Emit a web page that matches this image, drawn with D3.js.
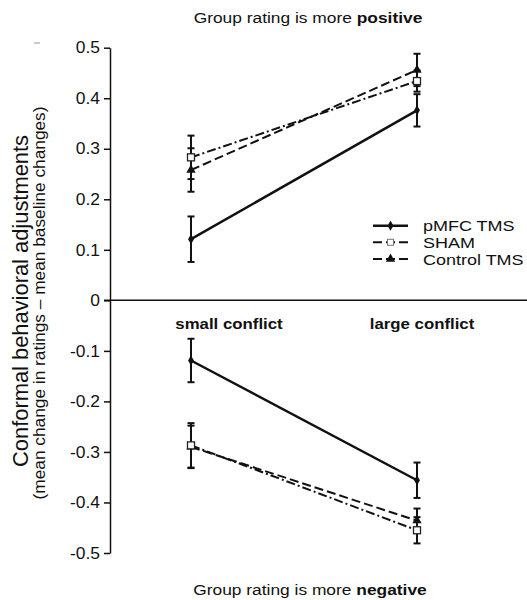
<!DOCTYPE html>
<html lang="en">
<head>
    <meta charset="UTF-8">
    <title>Conformal behavioral adjustments</title>
    <script src="https://cdnjs.cloudflare.com/ajax/libs/d3/7.8.5/d3.min.js"></script>
    <style>
        body {
            margin: 0;
            background-color: white;
        }
        svg text {
            font-family: "Liberation Sans", Arial, sans-serif;
            fill: #111;
        }
        .axis path, .axis line {
            stroke: #111;
            stroke-width: 1.5;
        }
    </style>
</head>
<body>
    <div id="chart"></div>

    <script>
        // Data
        const categories = ["small conflict", "large conflict"];
        const yTicks = [0.5, 0.4, 0.3, 0.2, 0.1, 0, -0.1, -0.2, -0.3, -0.4, -0.5];
        const seriesNames = ["pMFC TMS", "SHAM", "Control TMS"];

        // group rating more positive
        const pmfcPos = [0.121, 0.376];
        const pmfcPosErr = [0.045, 0.032];
        const shamPos = [0.283, 0.434];
        const shamPosErr = [0.043, 0.021];
        const controlPos = [0.258, 0.456];
        const controlPosErr = [0.043, 0.032];

        // group rating more negative
        const pmfcNeg = [-0.119, -0.356];
        const pmfcNegErr = [0.043, 0.035];
        const shamNeg = [-0.287, -0.455];
        const shamNegErr = [0.044, 0.026];
        const controlNeg = [-0.290, -0.436];
        const controlNegErr = [0.042, 0.024];

        const width = 527, height = 600;
        const axisX = 110;
        const stretch = 1.12;

        const svg = d3.select("#chart").append("svg")
            .attr("width", width)
            .attr("height", height);

        const x = d3.scalePoint().domain(categories).range([191, 417]);
        const y = d3.scaleLinear().domain([-0.5, 0.5]).range([553, 47.7]);

        // widen text a bit, the original font runs wider than Arial
        function widen(sel, k) {
            sel.each(function() {
                const w = this.getComputedTextLength();
                d3.select(this).attr("textLength", w * k).attr("lengthAdjust", "spacingAndGlyphs");
            });
        }

        const styles = {
            "pMFC TMS":    { dash: null,           width: 2.5, symbol: "diamond" },
            "SHAM":        { dash: "9,3,2,3",      width: 2,   symbol: "square" },
            "Control TMS": { dash: "9,4",          width: 2,   symbol: "triangle" }
        };

        function drawMarker(g, kind, cx, cy) {
            if (kind === "diamond") {
                g.append("path")
                    .attr("d", d3.symbol().type(d3.symbolDiamond).size(30)())
                    .attr("transform", `translate(${cx},${cy})`)
                    .attr("fill", "#111");
            } else if (kind === "square") {
                g.append("rect")
                    .attr("x", cx - 3.5).attr("y", cy - 3.5)
                    .attr("width", 7).attr("height", 7)
                    .attr("fill", "white")
                    .attr("stroke", "#222")
                    .attr("stroke-width", 1.3);
            } else {
                g.append("path")
                    .attr("d", d3.symbol().type(d3.symbolTriangle).size(38)())
                    .attr("transform", `translate(${cx},${cy})`)
                    .attr("fill", "#111");
            }
        }

        const panels = [
            [["pMFC TMS", pmfcPos, pmfcPosErr], ["Control TMS", controlPos, controlPosErr], ["SHAM", shamPos, shamPosErr]],
            [["pMFC TMS", pmfcNeg, pmfcNegErr], ["Control TMS", controlNeg, controlNegErr], ["SHAM", shamNeg, shamNegErr]]
        ];

        const line = d3.line()
            .x((d, i) => x(categories[i]))
            .y(d => y(d));

        const plot = svg.append("g");

        panels.forEach(panel => {
            // lines first
            panel.forEach(([name, vals]) => {
                const st = styles[name];
                plot.append("path")
                    .datum(vals)
                    .attr("d", line)
                    .attr("fill", "none")
                    .attr("stroke", "#111")
                    .attr("stroke-width", st.width)
                    .attr("stroke-dasharray", st.dash);
            });
            // error bars and markers
            panel.forEach(([name, vals, errs]) => {
                const st = styles[name];
                vals.forEach((v, i) => {
                    const cx = x(categories[i]);
                    const top = y(v + errs[i]), bot = y(v - errs[i]);
                    plot.append("line")
                        .attr("x1", cx).attr("x2", cx)
                        .attr("y1", top).attr("y2", bot)
                        .attr("stroke", "#111").attr("stroke-width", 2);
                    [top, bot].forEach(cy => {
                        plot.append("line")
                            .attr("x1", cx - 3.5).attr("x2", cx + 3.5)
                            .attr("y1", cy).attr("y2", cy)
                            .attr("stroke", "#111").attr("stroke-width", 2);
                    });
                    drawMarker(plot, st.symbol, cx, y(v));
                });
            });
        });

        // y axis
        const yAxis = svg.append("g")
            .attr("class", "axis")
            .attr("transform", `translate(${axisX},0)`)
            .call(d3.axisLeft(y)
                .tickValues(yTicks)
                .tickSize(6)
                .tickSizeOuter(0)
                .tickPadding(4)
                .tickFormat(d => String(d)));
        yAxis.selectAll("text")
            .style("font-size", "16.3px")
            .style("font-family", '"Liberation Sans", Arial, sans-serif')
            .attr("fill", "#111")
            .call(widen, 1.07);

        // zero line
        svg.append("line")
            .attr("x1", axisX - 6).attr("x2", width)
            .attr("y1", y(0)).attr("y2", y(0))
            .attr("stroke", "#111").attr("stroke-width", 1.5);

        // category labels
        const categoryLabelDx = [38, 5];
        svg.selectAll(".cat")
            .data(categories)
            .enter().append("text")
            .attr("class", "cat")
            .attr("x", (d, i) => x(d) + categoryLabelDx[i])
            .attr("y", 329)
            .attr("text-anchor", "middle")
            .style("font-size", "15px")
            .style("font-weight", "bold")
            .text(d => d)
            .call(widen, stretch);

        // top and bottom captions
        const topCap = svg.append("text")
            .attr("x", 308).attr("y", 23)
            .attr("text-anchor", "middle")
            .style("font-size", "15.5px");
        topCap.append("tspan").text("Group rating is more ");
        topCap.append("tspan").style("font-weight", "bold").text("positive");
        topCap.call(widen, stretch);

        const botCap = svg.append("text")
            .attr("x", 310).attr("y", 595)
            .attr("text-anchor", "middle")
            .style("font-size", "15.5px");
        botCap.append("tspan").text("Group rating is more ");
        botCap.append("tspan").style("font-weight", "bold").text("negative");
        botCap.call(widen, stretch);

        // y axis titles
        svg.append("text")
            .attr("transform", "translate(28,301) rotate(-90)")
            .attr("text-anchor", "middle")
            .style("font-size", "21.5px")
            .text("Conformal behavioral adjustments")
            .attr("textLength", 332)
            .attr("lengthAdjust", "spacingAndGlyphs");

        svg.append("text")
            .attr("transform", "translate(45,303) rotate(-90)")
            .attr("text-anchor", "middle")
            .style("font-size", "16px")
            .text("(mean change in ratings \u2013 mean baseline changes)")
            .attr("textLength", 393)
            .attr("lengthAdjust", "spacingAndGlyphs");

        // small stray mark in the top-left corner of the original
        svg.append("line")
            .attr("x1", 34).attr("x2", 40)
            .attr("y1", 43).attr("y2", 43)
            .attr("stroke", "#999").attr("stroke-width", 1);

        // legend
        const legendRows = [225.7, 242.3, 259];
        const legend = svg.append("g");
        seriesNames.forEach((name, i) => {
            const st = styles[name];
            const ly = legendRows[i];
            legend.append("line")
                .attr("x1", 373).attr("x2", 408)
                .attr("y1", ly).attr("y2", ly)
                .attr("stroke", "#111")
                .attr("stroke-width", st.width)
                .attr("stroke-dasharray", st.dash ? "9,4" : null);
            if (st.symbol === "square") {
                legend.append("rect")
                    .attr("x", 387.5).attr("y", ly - 3)
                    .attr("width", 6).attr("height", 6)
                    .attr("fill", "white")
                    .attr("stroke", "#777")
                    .attr("stroke-width", 1);
            } else {
                drawMarker(legend, st.symbol, 390.5, ly);
            }
            legend.append("text")
                .attr("x", 423).attr("y", ly + 5.5)
                .style("font-size", "15.5px")
                .text(name)
                .call(widen, 1.16);
        });
    </script>
</body>
</html>
